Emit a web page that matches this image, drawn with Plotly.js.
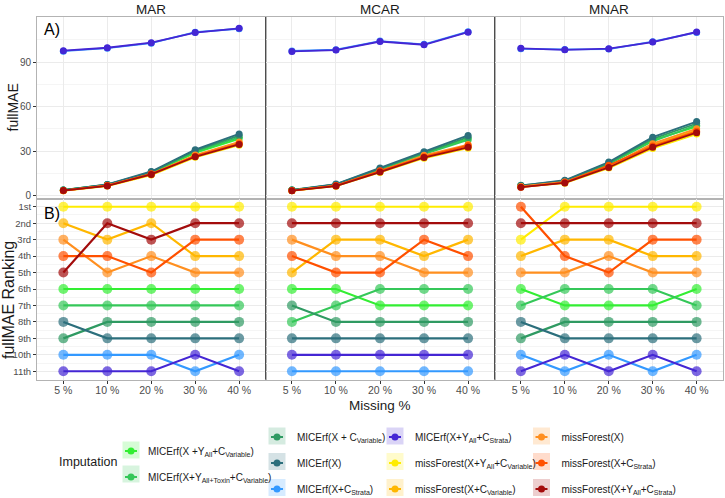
<!DOCTYPE html>
<html>
<head>
<meta charset="utf-8">
<script src="https://cdn.plot.ly/plotly-3.0.1.min.js"></script>
<style>
  html, body { margin: 0; padding: 0; background: #ffffff; }
  #chart { width: 725px; height: 498px; }
</style>
</head>
<body>
<div id="chart"></div>
<script>
// Missing-data levels on the x axis
const missingLevels = ["5 %", "10 %", "20 %", "30 %", "40 %"];
// Missingness mechanisms (one column of panels each)
const mechanisms = ["MAR", "MCAR", "MNAR"];
// Imputation methods
const methods = [
  "MICErf(X +Y<sub>All</sub>+C<sub>Variable</sub>)",
  "MICErf(X+Y<sub>All+Toxin</sub>+C<sub>Variable</sub>)",
  "MICErf(X + C<sub>Variable</sub>)",
  "MICErf(X)",
  "MICErf(X+C<sub>Strata</sub>)",
  "MICErf(X+Y<sub>All</sub>+C<sub>Strata</sub>)",
  "missForest(X+Y<sub>All</sub>+C<sub>Variable</sub>)",
  "missForest(X+C<sub>Variable</sub>)",
  "missForest(X)",
  "missForest(X+C<sub>Strata</sub>)",
  "missForest(X+Y<sub>All</sub>+C<sub>Strata</sub>)"
];
const rankLabels = ["1st", "2nd", "3rd", "4th", "5th", "6th", "7th", "8th", "9th", "10th", "11th"];

// fullMAE per method (rows, same order as methods) and missing level (columns)
const maeMAR = [
  [3.70, 7.3, 15.3, 28.8, 38.3],
  [3.75, 7.4, 15.6, 29.6, 39.3],
  [3.85, 7.5, 15.9, 30.3, 40.4],
  [3.80, 7.6, 16.3, 31.0, 41.6],
  [97.3, 99.3, 102.7, 110.1, 112.4],
  [97.6, 99.6, 103.0, 109.8, 112.7],
  [3.30, 6.5, 13.9, 25.8, 34.0],
  [3.35, 6.7, 14.1, 27.0, 35.5],
  [3.40, 6.9, 14.5, 27.4, 36.2],
  [3.45, 6.8, 14.7, 26.6, 35.0],
  [3.50, 6.6, 14.3, 26.2, 34.5]
];
const maeMCAR = [
  [3.70, 7.4, 17.9, 28.5, 38.3],
  [3.80, 7.5, 17.6, 28.0, 37.5],
  [3.75, 7.6, 18.3, 29.0, 39.4],
  [3.85, 7.8, 18.7, 29.6, 40.6],
  [97.4, 98.3, 104.1, 101.9, 110.4],
  [97.1, 98.0, 103.8, 101.6, 110.1],
  [3.30, 6.4, 15.6, 25.2, 32.0],
  [3.50, 6.6, 16.2, 26.7, 33.2],
  [3.40, 6.7, 16.5, 27.2, 34.4],
  [3.45, 6.8, 16.8, 26.2, 33.8],
  [3.35, 6.5, 15.9, 25.7, 32.6]
];
const maeMNAR = [
  [6.50, 9.8, 21.6, 37.4, 46.5],
  [6.65, 9.6, 21.2, 36.6, 47.5],
  [6.95, 10.0, 22.1, 38.3, 48.6],
  [6.80, 10.4, 22.7, 39.4, 49.9],
  [98.9, 98.5, 98.7, 103.7, 109.9],
  [99.2, 98.2, 99.0, 103.4, 110.2],
  [5.90, 8.4, 18.6, 31.8, 41.5],
  [6.05, 8.8, 19.5, 34.2, 44.2],
  [6.20, 9.2, 20.0, 35.0, 45.1],
  [5.60, 9.0, 20.5, 33.4, 43.3],
  [5.75, 8.6, 19.0, 32.6, 42.4]
];

// fullMAE ranking (1 = lowest error)
const rankMAR = [
  [6, 6, 6, 6, 6],
  [7, 7, 7, 7, 7],
  [9, 8, 8, 8, 8],
  [8, 9, 9, 9, 9],
  [10, 10, 10, 11, 10],
  [11, 11, 11, 10, 11],
  [1, 1, 1, 1, 1],
  [2, 3, 2, 4, 4],
  [3, 5, 4, 5, 5],
  [4, 4, 5, 3, 3],
  [5, 2, 3, 2, 2]
];
const rankMCAR = [
  [6, 6, 7, 7, 7],
  [8, 7, 6, 6, 6],
  [7, 8, 8, 8, 8],
  [9, 9, 9, 9, 9],
  [11, 11, 11, 11, 11],
  [10, 10, 10, 10, 10],
  [1, 1, 1, 1, 1],
  [5, 3, 3, 4, 3],
  [3, 4, 4, 5, 5],
  [4, 5, 5, 3, 4],
  [2, 2, 2, 2, 2]
];
const rankMNAR = [
  [6, 7, 7, 7, 6],
  [7, 6, 6, 6, 7],
  [9, 8, 8, 8, 8],
  [8, 9, 9, 9, 9],
  [10, 11, 10, 11, 10],
  [11, 10, 11, 10, 11],
  [3, 1, 1, 1, 1],
  [4, 3, 3, 4, 4],
  [5, 5, 4, 5, 5],
  [1, 4, 5, 3, 3],
  [2, 2, 2, 2, 2]
];

// Styling
const methodColors = [
  "#33ee33", "#35c759", "#2f9a62", "#2c6f7c", "#3399ff", "#4426d4",
  "#ffec00", "#ffb700", "#ff8f1f", "#ff5000", "#a30c0c"
];
const legendColumn = [0, 0, 1, 1, 1, 2, 2, 2, 3, 3, 3];
const legendIds = ["legend", "legend2", "legend3", "legend4"];

const maeByMech = [maeMAR, maeMCAR, maeMNAR];
const rankByMech = [rankMAR, rankMCAR, rankMNAR];

const W = 725, H = 498;
const fx = v => v / W;
const fy = v => 1 - v / H;
const colX = [[37, 265.5], [265.5, 494.5], [494.5, 723]];
const rowY = [[17, 198.5], [198.5, 379.5]];
const FONT = "Liberation Sans, Arial, Helvetica, sans-serif";

function hexA(hex, a) {
  const n = parseInt(hex.slice(1), 16);
  return `rgba(${(n >> 16) & 255},${(n >> 8) & 255},${n & 255},${a})`;
}

const traces = [];
// Panel row A: fullMAE
mechanisms.forEach((mech, c) => {
  const k = c + 1;
  methods.forEach((name, s) => {
    traces.push({
      type: "scatter", mode: "lines+markers",
      x: missingLevels, y: maeByMech[c][s],
      xaxis: k === 1 ? "x" : "x" + k, yaxis: k === 1 ? "y" : "y" + k,
      name: name, legendgroup: "m" + s, showlegend: c === 0,
      legend: legendIds[legendColumn[s]],
      line: { color: methodColors[s], width: 1.8 },
      marker: { color: methodColors[s], size: 7 },
      hoverinfo: "skip"
    });
  });
});
// Panel row B: ranking
mechanisms.forEach((mech, c) => {
  const k = c + 4;
  methods.forEach((name, s) => {
    traces.push({
      type: "scatter", mode: "lines+markers",
      x: missingLevels, y: rankByMech[c][s],
      xaxis: "x" + k, yaxis: "y" + k,
      name: name, legendgroup: "m" + s, showlegend: false,
      line: { color: methodColors[s], width: 2.2 },
      marker: { color: methodColors[s], size: 10, opacity: 0.7 },
      hoverinfo: "skip"
    });
  });
});

const layout = {
  width: W, height: H,
  margin: { l: 0, r: 0, t: 0, b: 0, autoexpand: false },
  paper_bgcolor: "#ffffff", plot_bgcolor: "#ffffff",
  font: { family: FONT, color: "#1a1a1a", size: 11 },
  shapes: [], annotations: []
};

for (let r = 0; r < 2; r++) {
  for (let c = 0; c < 3; c++) {
    const k = r * 3 + c + 1;
    const xs = k === 1 ? "" : String(k);
    const bottom = r === 1, left = c === 0;
    layout["xaxis" + xs] = {
      domain: [fx(colX[c][0]), fx(colX[c][1])],
      anchor: "y" + xs,
      type: "category", categoryorder: "array", categoryarray: missingLevels,
      range: [-0.6, 4.6], fixedrange: true,
      showgrid: true, gridcolor: "#ebebeb", gridwidth: 1,
      zeroline: false, showline: true, mirror: true, linecolor: "#b3b3b3", linewidth: 1,
      showticklabels: bottom, ticks: bottom ? "outside" : "",
      ticklen: 3, tickwidth: 1, tickcolor: "#333333", ticklabelstandoff: -2,
      tickfont: { family: FONT, size: 10.5, color: "#4d4d4d" }
    };
    const yax = {
      domain: [fy(rowY[r][1]), fy(rowY[r][0])],
      anchor: "x" + xs,
      fixedrange: true,
      showgrid: true, gridcolor: "#ebebeb", gridwidth: 1,
      zeroline: false, showline: true, mirror: true, linecolor: "#b3b3b3", linewidth: 1,
      showticklabels: left, ticks: left ? "outside" : "",
      ticklen: 3, tickwidth: 1, tickcolor: "#333333",
      tickmode: "array"
    };
    if (r === 0) {
      yax.range = [-1.9, 120.3];
      yax.tickvals = [0, 30, 60, 90];
      yax.ticktext = ["0", "30", "60", "90"];
      yax.tickfont = { family: FONT, size: 10, color: "#4d4d4d" };
      yax.minor = { tickmode: "array", tickvals: [15, 45, 75, 105], showgrid: true, gridcolor: "#f3f3f3", gridwidth: 0.8 };
    } else {
      yax.range = [11.5, 0.5];
      yax.tickvals = rankLabels.map((_, i) => i + 1);
      yax.ticktext = rankLabels;
      yax.tickfont = { family: FONT, size: 9.5, color: "#4d4d4d" };
      yax.minor = { tickmode: "array", tickvals: rankLabels.slice(0, 10).map((_, i) => i + 1.5), showgrid: true, gridcolor: "#f3f3f3", gridwidth: 0.8 };
    }
    layout["yaxis" + xs] = yax;
  }
}

// Dark dividers between mechanism columns
[265.5, 494.5].forEach(x => {
  layout.shapes.push({
    type: "line", xref: "paper", yref: "paper",
    x0: fx(x), x1: fx(x), y0: fy(17), y1: fy(379.5),
    line: { color: "#4d4d4d", width: 1 }
  });
});

// Column strip titles
mechanisms.forEach((mech, c) => {
  layout.annotations.push({
    xref: "paper", yref: "paper", x: fx((colX[c][0] + colX[c][1]) / 2), y: fy(9),
    text: mech, showarrow: false, xanchor: "center", yanchor: "middle",
    font: { family: FONT, size: 13.5, color: "#1a1a1a" }
  });
});

// Panel tags and axis titles
layout.annotations.push(
  { xref: "paper", yref: "paper", x: fx(42), y: fy(30), text: "A)", showarrow: false,
    xanchor: "left", yanchor: "middle", font: { family: FONT, size: 16, color: "#000000" } },
  { xref: "paper", yref: "paper", x: fx(42), y: fy(213), text: "B)", showarrow: false,
    xanchor: "left", yanchor: "middle", font: { family: FONT, size: 16, color: "#000000" } },
  { xref: "paper", yref: "paper", x: fx(12), y: fy(107.5), text: "fullMAE", showarrow: false,
    textangle: -90, xanchor: "center", yanchor: "middle", font: { family: FONT, size: 14, color: "#1a1a1a" } },
  { xref: "paper", yref: "paper", x: fx(8), y: fy(300), text: "fullMAE Ranking", showarrow: false,
    textangle: -90, xanchor: "center", yanchor: "middle", font: { family: FONT, size: 16, color: "#1a1a1a" } },
  { xref: "paper", yref: "paper", x: fx(380), y: fy(405), text: "Missing %", showarrow: false,
    xanchor: "center", yanchor: "middle", font: { family: FONT, size: 13.5, color: "#1a1a1a" } },
  { xref: "paper", yref: "paper", x: fx(57), y: fy(462), text: "Imputation", showarrow: false,
    xanchor: "left", yanchor: "middle", font: { family: FONT, size: 12.5, color: "#1a1a1a" } }
);

// Legend columns (key centre sits 20 px right of each legend's left edge)
const keyX = [131, 277, 395, 541.5];
const keyRowsY = [[450, 474], [436, 461.5, 487.5], [436, 461.5, 487.5], [436, 461.5, 487.5]];
legendIds.forEach((id, i) => {
  layout[id] = {
    x: fx(keyX[i] - 20), y: fy(keyRowsY[i][0] - 13.5), xanchor: "left", yanchor: "top",
    orientation: "v", bgcolor: "rgba(0,0,0,0)", borderwidth: 0,
    tracegroupgap: 7, itemclick: false, itemdoubleclick: false,
    font: { family: FONT, size: 10, color: "#1a1a1a" }
  };
});

// Tinted key backgrounds behind legend symbols
const rowInCol = [0, 1, 0, 1, 2, 0, 1, 2, 0, 1, 2];
methods.forEach((_, s) => {
  const col = legendColumn[s];
  const cx = keyX[col], cy = keyRowsY[col][rowInCol[s]];
  layout.shapes.push({
    type: "rect", xref: "paper", yref: "paper", layer: "below",
    x0: fx(cx - 8.5), x1: fx(cx + 8.5), y0: fy(cy + 8.5), y1: fy(cy - 8.5),
    fillcolor: hexA(methodColors[s], 0.2), line: { width: 0 }
  });
});

Plotly.newPlot("chart", traces, layout, { staticPlot: true, displayModeBar: false }).then(gd => {
  // Shorter key strokes that stay inside the tinted squares, text closer to the key
  gd.querySelectorAll(".legendlines path").forEach(p => p.setAttribute("d", "M14,0h12"));
  gd.querySelectorAll(".legendtext").forEach(t => t.setAttribute("x", 37));
});
</script>
</body>
</html>
